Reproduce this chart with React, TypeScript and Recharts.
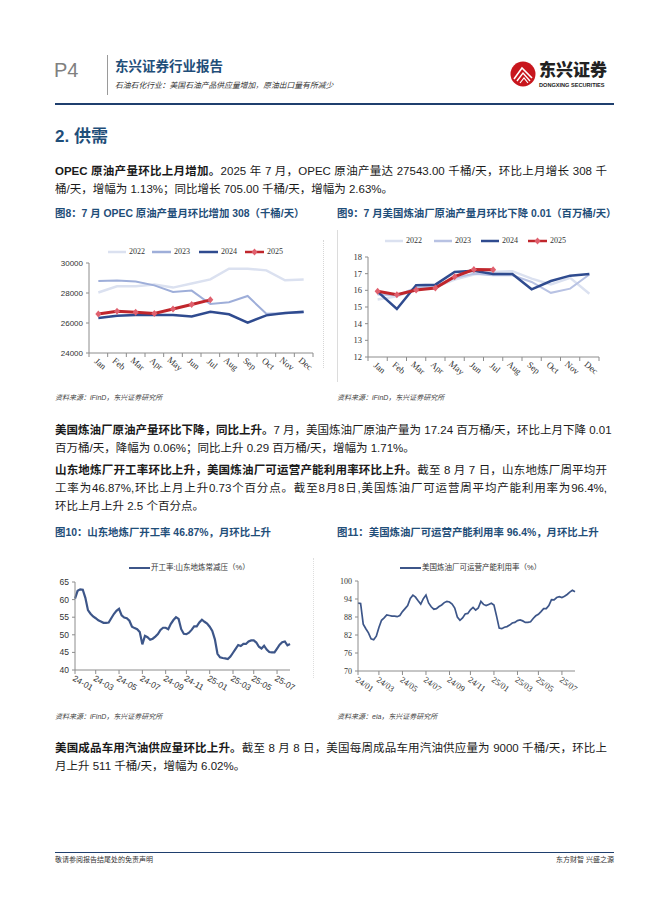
import React from "react";
import { LineChart, Line, XAxis, YAxis } from "recharts";

// ---- 图8 OPEC 原油产量（千桶/天）
const MONTHS = ["Jan", "Feb", "Mar", "Apr", "May", "Jun", "Jul", "Aug", "Sep", "Oct", "Nov", "Dec"];
const OPEC_2022 = [28030, 28450, 28450, 28560, 28360, 28630, 28910, 29620, 29620, 29510, 28850, 28900];
const OPEC_2023 = [28800, 28840, 28760, 28510, 28070, 28160, 27270, 27380, 27800, 26620, 26650, 26700];
const OPEC_2024 = [26330, 26490, 26530, 26530, 26530, 26440, 26750, 26580, 26020, 26510, 26670, 26750];
const OPEC_2025 = [26600, 26780, 26710, 26640, 26930, 27235, 27543];
const OPEC_TICKS = [24000, 26000, 28000, 30000];

// ---- 图9 美国炼油厂原油产量（百万桶/天）
const REF_2022 = [15.45, 15.65, 16.05, 16.2, 16.65, 16.95, 17.1, 17.15, 16.7, 16.35, 16.75, 15.8];
const REF_2023 = [15.75, 15.7, 16.15, 16.25, 16.75, 17.0, 16.9, 16.9, 16.5, 15.85, 16.1, 16.95];
const REF_2024 = [15.92, 14.88, 16.3, 16.34, 17.1, 17.18, 16.98, 16.98, 16.06, 16.56, 16.88, 16.98];
const REF_2025 = [15.94, 15.74, 16.02, 16.14, 16.82, 17.25, 17.24];
const REF_TICKS = [12, 13, 14, 15, 16, 17, 18];

// ---- 图10 山东地炼常减压开工率（%），周度
const SD_RATE = [
  60.3, 62.5, 62.9, 62.8, 60.5, 57.0, 56.0, 55.2, 54.7, 54.1, 53.8, 53.4, 53.4, 53.5, 54.7, 55.9,
  56.8, 57.4, 55.5, 54.9, 54.7, 54.0, 52.3, 51.9, 51.6, 50.8, 47.3, 49.7, 49.3, 48.6, 48.9, 49.5,
  50.2, 51.4, 52.0, 52.0, 51.6, 53.1, 54.2, 55.0, 54.5, 51.6, 50.3, 50.2, 50.6, 51.4, 52.4, 52.4,
  53.5, 54.3, 53.7, 53.2, 52.3, 51.1, 48.7, 44.6, 43.6, 43.4, 43.3, 43.1, 43.8, 44.9, 46.0, 47.1,
  46.8, 47.4, 47.4, 48.1, 48.4, 48.4, 47.8, 46.6, 46.1, 46.9, 45.8, 45.1, 45.0, 45.0, 46.1, 47.2,
  47.9, 48.1, 47.0, 47.4,
];
const SD_TICK_IDX = [0, 8, 17, 26, 35, 43, 52, 61, 69, 78];
const SD_TICK_LABELS = ["24-01", "24-03", "24-05", "24-07", "24-09", "24-11", "25-01", "25-03", "25-05", "25-07"];
const SD_Y_TICKS = [40, 45, 50, 55, 60, 65];

// ---- 图11 美国炼油厂可运营产能利用率（%），周度
const US_UTIL = [
  92.6, 92.5, 85.6, 84.1, 82.7, 80.7, 80.4, 81.6, 84.5, 86.9, 87.7, 88.7, 88.5, 88.3, 88.3, 88.1,
  88.5, 89.8, 90.8, 91.8, 94.2, 95.3, 94.6, 93.4, 92.3, 94.1, 95.3, 92.7, 91.4, 90.6, 90.8, 91.5,
  92.0, 92.8, 93.2, 93.0, 92.3, 91.0, 88.0, 86.9, 87.7, 89.0, 89.2, 90.4, 91.2, 90.3, 91.0, 93.2,
  92.2, 91.8, 92.2, 92.6, 92.0, 88.3, 84.3, 84.1, 84.6, 84.8, 85.3, 86.0, 86.2, 86.8, 87.0, 86.7,
  86.2, 86.2, 86.4, 87.5, 88.4, 88.9, 89.8, 90.8, 90.8, 91.8, 93.8, 93.7, 94.5, 94.8, 94.5, 94.9,
  95.5, 96.3, 96.9, 96.4,
];
const US_TICK_IDX = [0, 8, 17, 26, 35, 43, 52, 61, 69, 78];
const US_TICK_LABELS = ["24/01", "24/03", "24/05", "24/07", "24/09", "24/11", "25/01", "25/03", "25/05", "25/07"];
const US_Y_TICKS = [70, 76, 82, 88, 94, 100];

const SANS = '"Liberation Sans", Arial, "Noto Sans CJK SC", sans-serif';
const SERIF = '"Liberation Serif", "Times New Roman", "Noto Sans CJK SC", serif';
const NAVY = "#1f4e79";
const AXIS = "#8c8c8c";

const C2022 = "#dbe1f0";
const C2023_A = "#9eaed9";
const C2023_B = "#b8c2e3";
const C2024 = "#2f4b8f";
const C2025 = "#c0262c";
const WEEKLY = "#3d5689";

const opecData = MONTHS.map((m, i) => ({
  m,
  y2022: OPEC_2022[i],
  y2023: OPEC_2023[i],
  y2024: OPEC_2024[i],
  y2025: OPEC_2025[i],
}));
const refData = MONTHS.map((m, i) => ({
  m,
  y2022: REF_2022[i],
  y2023: REF_2023[i],
  y2024: REF_2024[i],
  y2025: REF_2025[i],
}));
const sdData = SD_RATE.map((v, k) => ({ k, v }));
const usData = US_UTIL.map((v, k) => ({ k, v }));

// month ticks sit between the categories, labels are slanted
const makeBandTick = (bw: number, count: number) => (props: any) => {
  const { x, y, payload, index } = props;
  const marks = [x - bw / 2];
  if (index === count - 1) marks.push(x + bw / 2);
  return (
    <g>
      {marks.map((lx, i) => (
        <line key={i} x1={lx} x2={lx} y1={y} y2={y + 4} stroke={AXIS} />
      ))}
      <text
        x={x}
        y={y + 13}
        transform={`rotate(40, ${x}, ${y + 13})`}
        textAnchor="middle"
        fontFamily={SERIF}
        fontSize={9}
        fill="#333"
      >
        {payload.value}
      </text>
    </g>
  );
};

const makeDateTick = (labels: string[], font: string, angle: number) => (props: any) => {
  const { x, y, index } = props;
  const tx = x - 3;
  const ty = y + 5;
  return (
    <text
      x={tx}
      y={ty}
      transform={`rotate(${angle}, ${tx}, ${ty})`}
      textAnchor="start"
      fontFamily={font}
      fontSize={8.5}
      fill="#333"
    >
      {labels[index]}
    </text>
  );
};

const Diamond = (p: any) => {
  if (p.cx == null || p.cy == null || p.value == null) return <g key={p.index} />;
  return (
    <path
      key={p.index}
      d={`M${p.cx},${p.cy - 3.5}L${p.cx + 3},${p.cy}L${p.cx},${p.cy + 3.5}L${p.cx - 3},${p.cy}Z`}
      fill="#e0606e"
    />
  );
};

function YearLegend({ left, top, items }: { left: number; top: number; items: { name: string; color: string; x: number; w: number; marker?: boolean }[] }) {
  return (
    <div style={{ position: "absolute", left, top, width: 300, height: 12 }}>
      {items.map((it) => (
        <div key={it.name} style={{ position: "absolute", left: it.x, top: 0, height: 12, display: "flex", alignItems: "center" }}>
          <svg width={it.w} height={10} style={{ display: "block" }}>
            <line x1={0} x2={it.w} y1={5} y2={5} stroke={it.color} strokeWidth={2.5} />
            {it.marker && <path d={`M${it.w / 2},1.5L${it.w / 2 + 3},5L${it.w / 2},8.5L${it.w / 2 - 3},5Z`} fill="#e0606e" />}
          </svg>
          <span style={{ fontFamily: SERIF, fontSize: 8, color: "#333", marginLeft: 3, lineHeight: "12px" }}>{it.name}</span>
        </div>
      ))}
    </div>
  );
}

function TextRow({ y, justify, children }: { y: number; justify?: boolean; children: React.ReactNode }) {
  return (
    <div
      style={{
        position: "absolute",
        left: 55,
        top: y - 9,
        width: 552,
        height: 18,
        lineHeight: "18px",
        fontSize: 11.5,
        fontFamily: SANS,
        color: "#1a1a1a",
        whiteSpace: "nowrap",
        textAlign: justify ? "justify" : "left",
        textAlignLast: justify ? "justify" : "auto",
      }}
    >
      {children}
    </div>
  );
}

function FigTitle({ x, y, children }: { x: number; y: number; children: React.ReactNode }) {
  return (
    <div style={{ position: "absolute", left: x, top: y - 8, height: 16, lineHeight: "16px", fontSize: 10.4, fontWeight: 700, fontFamily: SANS, color: NAVY, whiteSpace: "nowrap" }}>
      {children}
    </div>
  );
}

function Source({ x, y, children }: { x: number; y: number; children: React.ReactNode }) {
  return (
    <div style={{ position: "absolute", left: x, top: y - 6, height: 12, lineHeight: "12px", fontSize: 7, fontStyle: "italic", fontFamily: SANS, color: "#444", whiteSpace: "nowrap" }}>
      {children}
    </div>
  );
}

function OpecChart() {
  const bw = 224 / 12;
  return (
    <div style={{ position: "absolute", left: 45, top: 238 }}>
      <LineChart width={285} height={150} data={opecData} margin={{ top: 25, right: 17, bottom: 5, left: 4 }}>
        <XAxis
          dataKey="m"
          interval={0}
          padding={{ left: bw / 2, right: bw / 2 }}
          tickLine={false}
          tickSize={0}
          tickMargin={0}
          height={30}
          stroke={AXIS}
          tick={makeBandTick(bw, 12)}
        />
        <YAxis
          domain={[24000, 30000]}
          ticks={OPEC_TICKS}
          interval={0}
          width={40}
          tickSize={3}
          tickMargin={3}
          stroke={AXIS}
          tick={{ fontSize: 8, fontFamily: SANS, fill: "#333" }}
        />
        <Line dataKey="y2022" stroke={C2022} strokeWidth={2.5} dot={false} isAnimationActive={false} />
        <Line dataKey="y2023" stroke={C2023_A} strokeWidth={2} dot={false} isAnimationActive={false} />
        <Line dataKey="y2024" stroke={C2024} strokeWidth={2.5} dot={false} isAnimationActive={false} />
        <Line dataKey="y2025" stroke={C2025} strokeWidth={3} dot={Diamond} isAnimationActive={false} />
      </LineChart>
    </div>
  );
}

function RefineryChart() {
  const bw = 231 / 12;
  return (
    <div style={{ position: "absolute", left: 337, top: 228 }}>
      <LineChart width={290} height={160} data={refData} margin={{ top: 29, right: 28, bottom: 3, left: 6 }}>
        <XAxis
          dataKey="m"
          interval={0}
          padding={{ left: bw / 2, right: bw / 2 }}
          tickLine={false}
          tickSize={0}
          tickMargin={0}
          height={28}
          stroke={AXIS}
          tick={makeBandTick(bw, 12)}
        />
        <YAxis
          domain={[12, 18]}
          ticks={REF_TICKS}
          interval={0}
          width={25}
          tickSize={3}
          tickMargin={3}
          stroke={AXIS}
          tick={{ fontSize: 8.5, fontFamily: SERIF, fill: "#333" }}
        />
        <Line dataKey="y2022" stroke={C2022} strokeWidth={2.5} dot={false} isAnimationActive={false} />
        <Line dataKey="y2023" stroke={C2023_B} strokeWidth={2} dot={false} isAnimationActive={false} />
        <Line dataKey="y2024" stroke={C2024} strokeWidth={2.5} dot={false} isAnimationActive={false} />
        <Line dataKey="y2025" stroke={C2025} strokeWidth={3} dot={Diamond} isAnimationActive={false} />
      </LineChart>
    </div>
  );
}

function ShandongChart() {
  return (
    <div style={{ position: "absolute", left: 40, top: 555 }}>
      <LineChart width={265} height={145} data={sdData} margin={{ top: 27, right: 15, bottom: 2, left: 5 }}>
        <XAxis
          type="number"
          dataKey="k"
          domain={[0, SD_RATE.length - 1]}
          ticks={SD_TICK_IDX}
          interval={0}
          height={28}
          tickSize={4}
          tickMargin={1}
          stroke={AXIS}
          tick={makeDateTick(SD_TICK_LABELS, SANS, 30)}
        />
        <YAxis
          domain={[40, 65]}
          ticks={SD_Y_TICKS}
          interval={0}
          width={30}
          tickSize={3}
          tickMargin={3}
          stroke={AXIS}
          tick={{ fontSize: 8.5, fontFamily: SANS, fill: "#333" }}
        />
        <Line dataKey="v" stroke={WEEKLY} strokeWidth={2.2} dot={false} isAnimationActive={false} />
      </LineChart>
    </div>
  );
}

function UtilChart() {
  return (
    <div style={{ position: "absolute", left: 330, top: 555 }}>
      <LineChart width={260} height={145} data={usData} margin={{ top: 26, right: 15, bottom: 2, left: 3 }}>
        <XAxis
          type="number"
          dataKey="k"
          domain={[0, US_UTIL.length - 1]}
          ticks={US_TICK_IDX}
          interval={0}
          height={27}
          tickSize={4}
          tickMargin={1}
          stroke={AXIS}
          tick={makeDateTick(US_TICK_LABELS, SERIF, 35)}
        />
        <YAxis
          domain={[70, 100]}
          ticks={US_Y_TICKS}
          interval={0}
          width={25}
          tickSize={3}
          tickMargin={3}
          stroke={AXIS}
          tick={{ fontSize: 8, fontFamily: SERIF, fill: "#333" }}
        />
        <Line dataKey="v" stroke={WEEKLY} strokeWidth={1.7} dot={false} isAnimationActive={false} />
      </LineChart>
    </div>
  );
}

function SeriesLegend({ x, y, lineW, text }: { x: number; y: number; lineW: number; text: string }) {
  return (
    <div style={{ position: "absolute", left: x, top: y - 6, height: 12, display: "flex", alignItems: "center", whiteSpace: "nowrap" }}>
      <svg width={lineW} height={6} style={{ display: "block" }}>
        <line x1={0} x2={lineW} y1={3} y2={3} stroke={WEEKLY} strokeWidth={2} />
      </svg>
      <span style={{ fontFamily: SANS, fontSize: 7.5, color: "#333", marginLeft: 1, lineHeight: "12px" }}>{text}</span>
    </div>
  );
}

export default function App() {
  return (
    <div style={{ position: "absolute", left: 0, top: 0, width: 662, height: 898, background: "#fff", overflow: "hidden", fontFamily: SANS }}>
      {/* 页眉 */}
      <div style={{ position: "absolute", left: 54, top: 58, fontSize: 20, lineHeight: "24px", color: "#808080", fontWeight: 300 }}>P4</div>
      <div style={{ position: "absolute", left: 107, top: 55, width: 1, height: 40, background: "#9a9a9a" }} />
      <div style={{ position: "absolute", left: 115, top: 58, fontSize: 13.5, lineHeight: "18px", fontWeight: 700, color: NAVY, whiteSpace: "nowrap" }}>东兴证券行业报告</div>
      <div style={{ position: "absolute", left: 115, top: 81, fontSize: 7.8, lineHeight: "10px", color: "#333", whiteSpace: "nowrap", fontStyle: "italic" }}>
        石油石化行业：美国石油产品供应量增加，原油出口量有所减少
      </div>
      <svg width={26} height={26} style={{ position: "absolute", left: 510, top: 61 }}>
        <circle cx={13} cy={13} r={12.5} fill="#c8161d" />
        <path d="M4 18 L12 7 L22 17" stroke="#fff" strokeWidth={1.6} fill="none" />
        <path d="M7 20 L13 12 L20 20" stroke="#fff" strokeWidth={1.4} fill="none" />
        <path d="M10 22 L14 17 L18 22" stroke="#fff" strokeWidth={1.2} fill="none" />
      </svg>
      <div style={{ position: "absolute", left: 539, top: 61, fontSize: 17, lineHeight: "20px", fontWeight: 900, color: "#222", whiteSpace: "nowrap" }}>东兴证券</div>
      <div style={{ position: "absolute", left: 539, top: 82, fontSize: 5.6, lineHeight: "7px", fontWeight: 700, color: "#222", whiteSpace: "nowrap" }}>DONGXING SECURITIES</div>
      <div style={{ position: "absolute", left: 55, top: 103, width: 559, height: 2, background: "#1f3f6e" }} />

      {/* 正文 */}
      <div style={{ position: "absolute", left: 55, top: 126, fontSize: 17, lineHeight: "22px", fontWeight: 700, color: NAVY, whiteSpace: "nowrap" }}>2. 供需</div>

      <TextRow y={171} justify>
        <b>OPEC 原油产量环比上月增加。</b>2025 年 7 月，OPEC 原油产量达 27543.00 千桶/天，环比上月增长 308 千
      </TextRow>
      <TextRow y={189}>桶/天，增幅为 1.13%；同比增长 705.00 千桶/天，增幅为 2.63%。</TextRow>

      <FigTitle x={55} y={214}>图8：7 月 OPEC 原油产量月环比增加 308（千桶/天）</FigTitle>
      <FigTitle x={337} y={214}>图9：7 月美国炼油厂原油产量月环比下降 0.01（百万桶/天）</FigTitle>

      <div style={{ position: "absolute", left: 323, top: 240, width: 0, height: 128, borderLeft: "1px dotted #d6d6d6" }} />
      <div style={{ position: "absolute", left: 337, top: 230, width: 1, height: 152, background: "#dcdcdc" }} />

      <YearLegend
        left={0}
        top={246}
        items={[
          { name: "2022", color: C2022, x: 108, w: 18 },
          { name: "2023", color: C2023_A, x: 152, w: 19 },
          { name: "2024", color: C2024, x: 199, w: 19 },
          { name: "2025", color: C2025, x: 245, w: 19, marker: true },
        ]}
      />
      <OpecChart />

      <YearLegend
        left={0}
        top={235}
        items={[
          { name: "2022", color: C2022, x: 385, w: 18 },
          { name: "2023", color: C2023_B, x: 434, w: 18 },
          { name: "2024", color: C2024, x: 481, w: 18 },
          { name: "2025", color: C2025, x: 528, w: 19, marker: true },
        ]}
      />
      <RefineryChart />

      <Source x={55} y={398}>资料来源：iFinD，东兴证券研究所</Source>
      <Source x={337} y={398}>资料来源：iFinD，东兴证券研究所</Source>

      <TextRow y={430} justify>
        <b>美国炼油厂原油产量环比下降，同比上升。</b>7 月，美国炼油厂原油产量为 17.24 百万桶/天，环比上月下降 0.01
      </TextRow>
      <TextRow y={448}>百万桶/天，降幅为 0.06%；同比上升 0.29 百万桶/天，增幅为 1.71%。</TextRow>

      <TextRow y={470} justify>
        <b>山东地炼厂开工率环比上升，美国炼油厂可运营产能利用率环比上升。</b>截至 8 月 7 日，山东地炼厂周平均开
      </TextRow>
      <TextRow y={488} justify>
        工率为46.87%,环比上月上升0.73个百分点。截至8月8日,美国炼油厂可运营周平均产能利用率为96.4%,
      </TextRow>
      <TextRow y={506}>环比上月上升 2.5 个百分点。</TextRow>

      <FigTitle x={55} y={533}>图10：山东地炼厂开工率 46.87%，月环比上升</FigTitle>
      <FigTitle x={337} y={533}>图11：美国炼油厂可运营产能利用率 96.4%，月环比上升</FigTitle>

      <div style={{ position: "absolute", left: 313, top: 558, width: 0, height: 120, borderLeft: "1px dotted #dedede" }} />

      <SeriesLegend x={129} y={568} lineW={21} text="开工率:山东地炼常减压（%）" />
      <ShandongChart />

      <SeriesLegend x={400} y={568} lineW={21} text="美国炼油厂可运营产能利用率（%）" />
      <UtilChart />

      <Source x={55} y={717}>资料来源：iFinD，东兴证券研究所</Source>
      <Source x={337} y={717}>资料来源：eia，东兴证券研究所</Source>

      <TextRow y={748} justify>
        <b>美国成品车用汽油供应量环比上升。</b>截至 8 月 8 日，美国每周成品车用汽油供应量为 9000 千桶/天，环比上
      </TextRow>
      <TextRow y={766}>月上升 511 千桶/天，增幅为 6.02%。</TextRow>

      {/* 页脚 */}
      <div style={{ position: "absolute", left: 55, top: 852, width: 559, height: 1, background: "#1f3f6e" }} />
      <div style={{ position: "absolute", left: 55, top: 855, fontSize: 7, lineHeight: "10px", color: "#333", whiteSpace: "nowrap" }}>敬请参阅报告结尾处的免责声明</div>
      <div style={{ position: "absolute", right: 48, top: 855, fontSize: 7, lineHeight: "10px", color: "#333", whiteSpace: "nowrap" }}>东方财智 兴盛之源</div>
    </div>
  );
}
